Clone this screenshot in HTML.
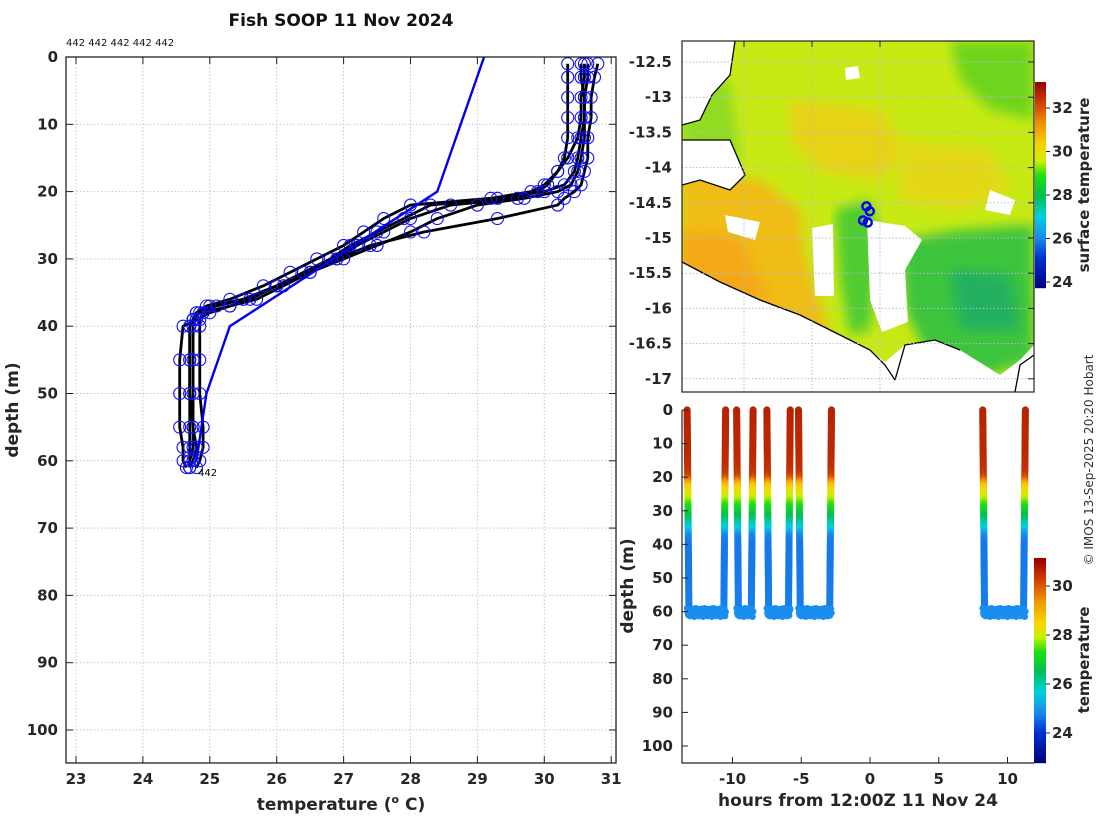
<!DOCTYPE html>
<html><head><meta charset="utf-8"><style>
html,body{margin:0;padding:0;background:#fff;}
svg{display:block;font-family:"DejaVu Sans","Liberation Sans",sans-serif;}
.tk{font-weight:bold;font-size:15px;fill:#262626;}
</style></head><body>
<svg id="fig" width="1100" height="820" viewBox="0 0 1100 820" xmlns="http://www.w3.org/2000/svg">
<g id="left"></g>
<g id="map"></g>
<g id="sect"></g>
<text x="341" y="26" text-anchor="middle" font-weight="bold" font-size="17" fill="#111">Fish SOOP 11 Nov 2024</text>
<text x="66" y="46" font-size="10" fill="#111">442 442 442 442 442</text>
<text transform="translate(1093,460) rotate(-90)" text-anchor="middle" font-size="12" fill="#333">© IMOS 13-Sep-2025 20:20 Hobart</text>
</svg>
<script>
// ---------- data ----------
const profDepths = [1,3,6,9,12,15,17,19,20,21,22,24,26,28,30,32,34,36,37,38,39,40,45,50,55,58,60,61];
const profA = [30.55,30.55,30.6,30.6,30.55,30.5,30.45,30.3,30.0,29.3,28.3,27.9,27.5,27.1,26.8,26.4,26.0,25.5,25.1,24.85,24.75,24.7,24.7,24.7,24.7,24.7,24.7,24.7];
const profB = [30.6,30.6,30.55,30.55,30.5,30.35,30.2,30.0,29.8,29.2,28.0,27.6,27.3,27.0,26.6,26.2,25.8,25.3,24.95,24.8,24.75,24.75,24.75,24.75,24.75,24.8,24.75,24.7];
const profC = [30.8,30.75,30.7,30.7,30.65,30.65,30.6,30.55,30.45,30.3,30.2,29.3,28.2,27.4,26.9,26.4,26.0,25.6,25.3,24.9,24.85,24.85,24.85,24.85,24.9,24.9,24.85,24.8];
const profD = [30.35,30.35,30.35,30.35,30.35,30.3,30.2,30.05,29.9,29.6,28.6,28.0,27.6,27.2,26.9,26.5,26.1,25.7,25.3,25.0,24.8,24.6,24.55,24.55,24.55,24.6,24.6,24.65];
const profE = [30.65,30.65,30.6,30.6,30.6,30.55,30.5,30.4,30.2,29.7,29.0,28.4,28.0,27.5,27.0,26.5,26.0,25.5,25.0,24.8,24.75,24.7,24.7,24.7,24.75,24.75,24.7,24.7];
const climDepths = [0,20,40,50,60];
const climTemps = [29.1,28.4,25.3,24.95,24.8];
const tempTicks = [23,24,25,26,27,28,29,30,31];
const depthTicks = [0,10,20,30,40,50,60,70,80,90,100];
const latTicks = [-12.5,-13,-13.5,-14,-14.5,-15,-15.5,-16,-16.5,-17];
const lonTicks = [127,128,129,140,141];
const sstTicks = [24,26,28,30,32];
const hourTicks = [-10,-5,0,5,10];
const secTempTicks = [24,26,28,30];
const diveStart = [-13.3,-9.7,-7.5,-5.2,8.2];
const diveEnd = [-10.5,-8.5,-5.8,-2.8,11.3];
const bottomWiggle = [0,1.5,2.2,1,0.4,2.6,1.2,0.3,1.8,2.4,0.8,0.2,1.6,2.8,1.1,0.5];
const shipLon = [128.8,128.85,128.75,128.82];
const shipLat = [-14.55,-14.62,-14.75,-14.78];

const NS="http://www.w3.org/2000/svg";
function mk(parent,tag,attrs,txt){const e=document.createElementNS(NS,tag);for(const k in attrs)e.setAttribute(k,attrs[k]);if(txt!==undefined)e.textContent=txt;parent.appendChild(e);return e;}

const cstops=[[0,[0,0,128]],[0.15,[0,48,208]],[0.25,[26,140,240]],[0.35,[0,208,224]],[0.45,[0,192,80]],[0.55,[32,224,16]],[0.62,[208,240,0]],[0.7,[248,208,0]],[0.8,[240,144,0]],[0.9,[208,64,0]],[1,[154,0,0]]];
function cmap(f){f=Math.max(0,Math.min(1,f));for(let i=1;i<cstops.length;i++){if(f<=cstops[i][0]){const a=cstops[i-1],b=cstops[i];const t=(f-a[0])/(b[0]-a[0]);const c=a[1].map((v,j)=>Math.round(v+(b[1][j]-v)*t));return `rgb(${c})`;}}return 'rgb(154,0,0)';}

// ---------- left profile plot ----------
const L=document.getElementById('left');
const lx0=66,lx1=616,ly0=57,ly1=763;
const xT=t=>76+(t-23)*66.9;
const yD=d=>57+d*6.73;
mk(L,'rect',{x:lx0,y:ly0,width:lx1-lx0,height:ly1-ly0,fill:'#fff'});
tempTicks.forEach(t=>{
  const g=mk(L,'line',{x1:xT(t),x2:xT(t),y1:ly0,y2:ly1,stroke:'#d8c0c8','stroke-dasharray':'1.5,2','stroke-width':1});
  
  mk(L,'line',{x1:xT(t),x2:xT(t),y1:ly1,y2:ly1-7,stroke:'#222'});
  mk(L,'line',{x1:xT(t),x2:xT(t),y1:ly0,y2:ly0+7,stroke:'#222'});
  const lb=mk(L,'text',{x:xT(t),y:784,'text-anchor':'middle',class:'tk'},t);
  
});
depthTicks.forEach(d=>{
  mk(L,'line',{x1:lx0,x2:lx1,y1:yD(d),y2:yD(d),stroke:'#c0c4e8','stroke-dasharray':'1.5,2','stroke-width':1});
  mk(L,'line',{x1:lx0,x2:lx0+7,y1:yD(d),y2:yD(d),stroke:'#222'});
  mk(L,'line',{x1:lx1,x2:lx1-7,y1:yD(d),y2:yD(d),stroke:'#222'});
  const lb=mk(L,'text',{x:58,y:yD(d)+5,'text-anchor':'end',class:'tk'},d);
  
});
[profA,profB,profC,profD,profE].forEach((p,i)=>{
  const pts=profDepths.map((d,j)=>xT(p[j])+','+yD(d)).join(' ');
  const pl=mk(L,'polyline',{points:pts,fill:'none',stroke:'#000','stroke-width':2.8,'stroke-linejoin':'round'});
  
  
});
[profA,profB,profC,profD,profE].forEach((p,i)=>{
  profDepths.forEach((d,j)=>{
    const c=mk(L,'circle',{cx:xT(p[j]),cy:yD(d),r:6,fill:'none',stroke:'#1010f0','stroke-width':1.1});
    
    
  });
});
const cl=mk(L,'polyline',{points:climDepths.map((d,j)=>xT(climTemps[j])+','+yD(d)).join(' '),fill:'none',stroke:'#0000ee','stroke-width':2.4});


mk(L,'text',{x:198,y:476,'font-size':10,fill:'#000'},'442');
mk(L,'rect',{x:lx0,y:ly0,width:lx1-lx0,height:ly1-ly0,fill:'none',stroke:'#222','stroke-width':1.3});
const xl=mk(L,'text',{x:341,y:810,'text-anchor':'middle','font-weight':'bold','font-size':17,fill:'#262626'});
xl.innerHTML='temperature (<tspan dy="-7" font-size="11">o</tspan><tspan dy="7"> C)</tspan>';

const yl=mk(L,'text',{transform:'translate(18,410) rotate(-90)','text-anchor':'middle','font-weight':'bold','font-size':17,fill:'#262626'},'depth (m)');


// ---------- map ----------
const M=document.getElementById('map');
const mx0=682,mx1=1034,my0=41,my1=392;
const xLon=l=>744+(l-127)*68;
const yLat=l=>62+(-12.5-l)*70.4;
mk(M,'defs',{}).innerHTML='<clipPath id="mc"><rect x="682" y="41" width="352" height="351"/></clipPath><filter id="bl"><feGaussianBlur stdDeviation="6"/></filter>';
const MG=mk(M,'g',{'clip-path':'url(#mc)'});
mk(MG,'rect',{x:mx0,y:my0,width:352,height:351,fill:'#c8ea14'});
const blobs=[
 ['#f0bc18','682,170 760,180 800,210 805,260 820,300 835,350 760,340 682,290'],
 ['#f4a814','682,230 740,240 770,300 700,300 682,290'],
 ['#e8d218','790,100 880,110 905,150 880,180 820,170 790,140'],
 ['#e4d818','900,140 990,150 1010,190 960,210 900,200'],
 ['#70d41c','950,41 1034,41 1034,120 990,110 960,80'],
 ['#3cc43c','900,240 960,230 1034,225 1034,360 990,375 930,360 905,310'],
 ['#20b060','950,270 1010,275 1020,330 960,330'],
 ['#50cc30','835,210 870,200 880,240 870,330 850,335 840,280'],
 ['#90dc20','682,80 730,80 740,160 700,170 682,150'],
 ['#ef9e12','895,372 930,370 935,392 895,392']
];
blobs.forEach(b=>mk(MG,'polygon',{points:b[1],fill:b[0],filter:'url(#bl)'}));
const whites=['812,228 833,224 834,296 815,296','867,220 905,226 922,240 905,270 908,322 882,332 870,300','682,41 735,41 730,75 712,95 700,120 682,125','682,140 730,140 745,175 730,190 700,180 682,185','682,262 720,282 760,300 800,315 840,335 870,350 885,362 905,345 935,340 960,350 1000,375 1020,360 1034,345 1034,392 682,392','725,215 760,222 755,240 728,232','845,68 858,66 860,78 846,80','990,190 1015,200 1010,215 985,210'];
whites.forEach(p=>mk(MG,'polygon',{points:p,fill:'#fff'}));
mk(MG,'polyline',{points:'682,262 720,282 760,300 800,315 840,335 870,350 885,365 895,380',fill:'none',stroke:'#000','stroke-width':1.3});
mk(MG,'polyline',{points:'895,380 905,345 935,340 960,350',fill:'none',stroke:'#000','stroke-width':1.3});
mk(MG,'polyline',{points:'1034,355 1020,365 1015,392',fill:'none',stroke:'#000','stroke-width':1.3});
mk(MG,'polyline',{points:'682,125 700,120 712,95 730,75 735,41',fill:'none',stroke:'#000','stroke-width':1.3});
mk(MG,'polyline',{points:'682,185 700,180 730,190 745,175 730,140 682,140',fill:'none',stroke:'#000','stroke-width':1.3});
latTicks.forEach(l=>{
  mk(M,'line',{x1:mx0,x2:mx1,y1:yLat(l),y2:yLat(l),stroke:'#b8b8d8','stroke-dasharray':'1.5,2'});
  mk(M,'line',{x1:mx1,x2:mx1-6,y1:yLat(l),y2:yLat(l),stroke:'#222'});
  const t=mk(M,'text',{x:672,y:yLat(l)+5,'text-anchor':'end',class:'tk'},l);
  
});
lonTicks.forEach(l=>{
  mk(M,'line',{x1:xLon(l),x2:xLon(l),y1:my0,y2:my1,stroke:'#b8b8d8','stroke-dasharray':'1.5,2'});
  mk(M,'line',{x1:xLon(l),x2:xLon(l),y1:my0,y2:my0+6,stroke:'#222'});
  mk(M,'text',{x:xLon(l),y:417,'text-anchor':'middle',class:'tk'},l);
});
shipLon.forEach((lo,i)=>{
  const c=mk(M,'circle',{cx:xLon(lo),cy:yLat(shipLat[i]),r:4,fill:'none',stroke:'#0000ee','stroke-width':2.4});
  
});
mk(M,'rect',{x:mx0,y:my0,width:352,height:351,fill:'none',stroke:'#222','stroke-width':1.2});
const cb1=mk(M,'g',{});
const sstY=v=>108+(32-v)*21.75;
for(let y=82;y<288;y++){const v=32-(y-108)/21.75;mk(cb1,'rect',{x:1035,y:y,width:11,height:1.2,fill:cmap((v-23.7)/(33.2-23.7))});}
sstTicks.forEach(v=>{mk(cb1,'line',{x1:1046,x2:1050,y1:sstY(v),y2:sstY(v),stroke:'#222'});mk(cb1,'text',{x:1052,y:sstY(v)+5,class:'tk'},v);});
mk(M,'text',{transform:'translate(1089,185) rotate(-90)','text-anchor':'middle','font-weight':'bold','font-size':15,fill:'#262626'},'surface temperature');

// ---------- depth-time section ----------
const S=document.getElementById('sect');
const sx0=682,sx1=1034,sy0=410,sy1=763;
const xH=h=>870+h*13.75;
const yS=d=>410+d*3.36;
const secT=v=>586+(30-v)*24.5;
mk(S,'rect',{x:sx0,y:400,width:420,height:10,fill:'#fff'});
mk(S,'rect',{x:sx0,y:sy0,width:sx1-sx0,height:sy1-sy0,fill:'#fff'});
function tempAt(d){const p=profE;if(d<=profDepths[0])return p[0];for(let i=1;i<profDepths.length;i++){if(d<=profDepths[i]){const t=(d-profDepths[i-1])/(profDepths[i]-profDepths[i-1]);return p[i-1]+(p[i]-p[i-1])*t;}}return p[p.length-1];}
const secCol=v=>cmap((v-22.8)/(31.1-22.8));
diveStart.forEach((t0,k)=>{
  const t1=diveEnd[k];
  const g=mk(S,'g',{});
  
  
  for(let d=0;d<=59;d+=0.6){
    mk(g,'circle',{cx:xH(t0)+d*0.03,cy:yS(d),r:3.6,fill:secCol(tempAt(d))});
    mk(g,'circle',{cx:xH(t1)-d*0.03,cy:yS(d),r:3.6,fill:secCol(tempAt(d))});
  }
  const n=Math.round((t1-t0)/0.04);
  for(let i=0;i<=n;i++){const d=59+bottomWiggle[i%bottomWiggle.length]*0.9;mk(g,'circle',{cx:xH(t0+(t1-t0)*i/n),cy:yS(d),r:3.3,fill:secCol(24.9)});}
});
depthTicks.forEach(d=>{mk(S,'line',{x1:sx0,x2:sx0+6,y1:yS(d),y2:yS(d),stroke:'#222'});
  const t=mk(S,'text',{x:673,y:yS(d)+5,'text-anchor':'end',class:'tk'},d);});
hourTicks.forEach(h=>{mk(S,'line',{x1:xH(h),x2:xH(h),y1:sy1,y2:sy1-6,stroke:'#222'});
  const t=mk(S,'text',{x:xH(h),y:784,'text-anchor':'middle',class:'tk'},h);});
mk(S,'polyline',{points:`${sx0},${sy0} ${sx0},${sy1} ${sx1},${sy1}`,fill:'none',stroke:'#222','stroke-width':1.2});
const cb2=mk(S,'g',{});
for(let y=558;y<763;y++){const v=30-(y-586)/24.5;mk(cb2,'rect',{x:1034,y:y,width:12,height:1.2,fill:secCol(v)});}
secTempTicks.forEach(v=>{mk(cb2,'line',{x1:1046,x2:1050,y1:secT(v),y2:secT(v),stroke:'#222'});mk(cb2,'text',{x:1052,y:secT(v)+5,class:'tk'},v);});
mk(S,'text',{transform:'translate(1089,660) rotate(-90)','text-anchor':'middle','font-weight':'bold','font-size':15,fill:'#262626'},'temperature');
const sxl=mk(S,'text',{x:858,y:806,'text-anchor':'middle','font-weight':'bold','font-size':17,fill:'#262626'},'hours from 12:00Z 11 Nov 24');

const syl=mk(S,'text',{transform:'translate(633,586) rotate(-90)','text-anchor':'middle','font-weight':'bold','font-size':17,fill:'#262626'},'depth (m)');

</script>
</body></html>
